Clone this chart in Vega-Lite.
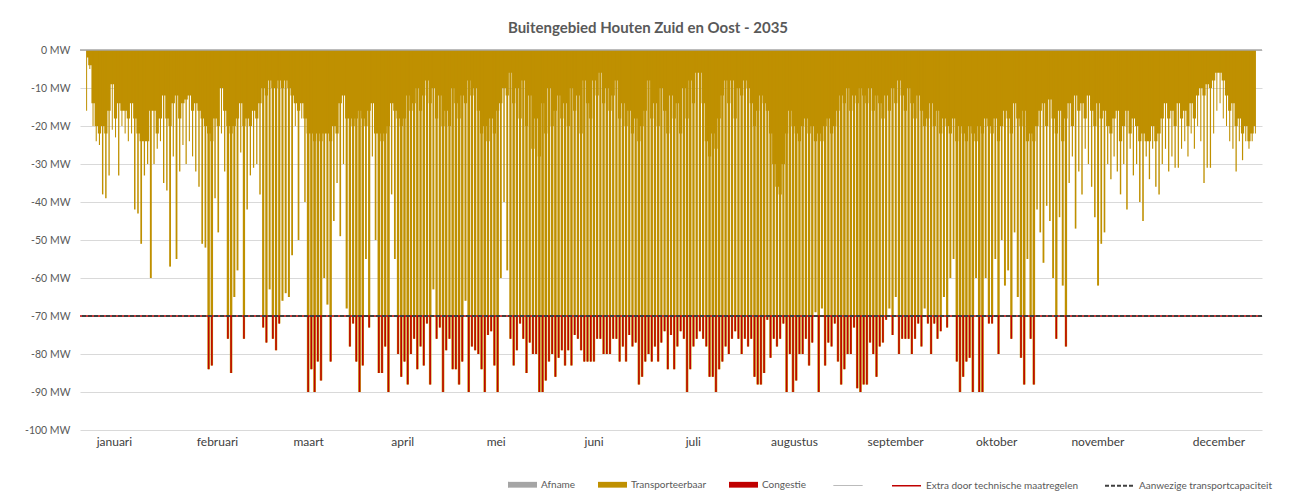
{
"$schema": "https://vega.github.io/schema/vega-lite/v6.json",
"width": 1182, "height": 380,
"autosize": "none",
"padding": {"left": 80, "top": 50, "right": 28, "bottom": 68},
"background": "white",
"config": {"font": "Lato", "view": {"stroke": null}},
"title": {"text": "Buitengebied Houten Zuid en Oost - 2035", "fontSize": 15, "fontWeight": "bold", "color": "#595959", "anchor": "middle", "dx": -23, "offset": -3, "baseline": "alphabetic"},
"data": {"values": [
{"d":0,"n":-2,"p":-16},{"d":1,"n":-4,"p":-5},{"d":2,"n":-14,"p":-20},{"d":3,"n":-20,"p":-24},{"d":4,"n":-22,"p":-25},{"d":5,"n":-20,"p":-38},{"d":6,"n":-22,"p":-39},{"d":7,"n":-16,"p":-33},{"d":8,"n":-9,"p":-21},{"d":9,"n":-18,"p":-23},
{"d":10,"n":-14,"p":-33},{"d":11,"n":-16,"p":-20},{"d":12,"n":-16,"p":-22},{"d":13,"n":-18,"p":-24},{"d":14,"n":-14,"p":-22},{"d":15,"n":-18,"p":-42},{"d":16,"n":-22,"p":-43},{"d":17,"n":-24,"p":-51},{"d":18,"n":-24,"p":-33},{"d":19,"n":-24,"p":-30},
{"d":20,"n":-16,"p":-60},{"d":21,"n":-16,"p":-30},{"d":22,"n":-22,"p":-26},{"d":23,"n":-18,"p":-24},{"d":24,"n":-12,"p":-35},{"d":25,"n":-18,"p":-37},{"d":26,"n":-20,"p":-57},{"d":27,"n":-14,"p":-28},{"d":28,"n":-12,"p":-55},{"d":29,"n":-18,"p":-32},
{"d":30,"n":-14,"p":-25},{"d":31,"n":-13,"p":-30},{"d":32,"n":-12,"p":-24},{"d":33,"n":-16,"p":-28},{"d":34,"n":-14,"p":-32},{"d":35,"n":-16,"p":-36},{"d":36,"n":-18,"p":-51},{"d":37,"n":-20,"p":-52},{"d":38,"n":-22,"p":-84},{"d":39,"n":-24,"p":-83},
{"d":40,"n":-18,"p":-39},{"d":41,"n":-20,"p":-48},{"d":42,"n":-10,"p":-22},{"d":43,"n":-16,"p":-32},{"d":44,"n":-20,"p":-76},{"d":45,"n":-22,"p":-85},{"d":46,"n":-20,"p":-65},{"d":47,"n":-18,"p":-58},{"d":48,"n":-14,"p":-27},{"d":49,"n":-20,"p":-76},
{"d":50,"n":-18,"p":-42},{"d":51,"n":-20,"p":-33},{"d":52,"n":-16,"p":-31},{"d":53,"n":-18,"p":-30},{"d":54,"n":-14,"p":-38},{"d":55,"n":-10,"p":-73},{"d":56,"n":-12,"p":-77},{"d":57,"n":-8,"p":-63},{"d":58,"n":-10,"p":-76},{"d":59,"n":-10,"p":-79},
{"d":60,"n":-8,"p":-72},{"d":61,"n":-10,"p":-66},{"d":62,"n":-8,"p":-64},{"d":63,"n":-10,"p":-65},{"d":64,"n":-12,"p":-54},{"d":65,"n":-14,"p":-20},{"d":66,"n":-16,"p":-50},{"d":67,"n":-14,"p":-18},{"d":68,"n":-18,"p":-40},{"d":69,"n":-22,"p":-90},
{"d":70,"n":-22,"p":-84},{"d":71,"n":-24,"p":-90},{"d":72,"n":-22,"p":-82},{"d":73,"n":-24,"p":-87},{"d":74,"n":-22,"p":-60},{"d":75,"n":-22,"p":-67},{"d":76,"n":-24,"p":-82},{"d":77,"n":-20,"p":-45},{"d":78,"n":-22,"p":-35},{"d":79,"n":-14,"p":-49},
{"d":80,"n":-12,"p":-30},{"d":81,"n":-18,"p":-68},{"d":82,"n":-18,"p":-78},{"d":83,"n":-20,"p":-72},{"d":84,"n":-18,"p":-82},{"d":85,"n":-16,"p":-90},{"d":86,"n":-18,"p":-83},{"d":87,"n":-20,"p":-55},{"d":88,"n":-16,"p":-73},{"d":89,"n":-14,"p":-28},
{"d":90,"n":-22,"p":-50},{"d":91,"n":-22,"p":-85},{"d":92,"n":-24,"p":-85},{"d":93,"n":-22,"p":-78},{"d":94,"n":-20,"p":-90},{"d":95,"n":-14,"p":-38},{"d":96,"n":-16,"p":-55},{"d":97,"n":-18,"p":-80},{"d":98,"n":-20,"p":-86},{"d":99,"n":-18,"p":-82},
{"d":100,"n":-12,"p":-88},{"d":101,"n":-16,"p":-80},{"d":102,"n":-14,"p":-76},{"d":103,"n":-10,"p":-84},{"d":104,"n":-16,"p":-78},{"d":105,"n":-12,"p":-83},{"d":106,"n":-8,"p":-72},{"d":107,"n":-14,"p":-88},{"d":108,"n":-10,"p":-63},{"d":109,"n":-18,"p":-76},
{"d":110,"n":-12,"p":-73},{"d":111,"n":-20,"p":-90},{"d":112,"n":-16,"p":-79},{"d":113,"n":-20,"p":-76},{"d":114,"n":-10,"p":-84},{"d":115,"n":-14,"p":-84},{"d":116,"n":-18,"p":-88},{"d":117,"n":-12,"p":-82},{"d":118,"n":-14,"p":-66},{"d":119,"n":-8,"p":-90},
{"d":120,"n":-12,"p":-78},{"d":121,"n":-10,"p":-79},{"d":122,"n":-16,"p":-80},{"d":123,"n":-22,"p":-84},{"d":124,"n":-20,"p":-90},{"d":125,"n":-24,"p":-75},{"d":126,"n":-18,"p":-74},{"d":127,"n":-22,"p":-83},{"d":128,"n":-16,"p":-90},{"d":129,"n":-14,"p":-60},
{"d":130,"n":-10,"p":-40},{"d":131,"n":-12,"p":-58},{"d":132,"n":-6,"p":-76},{"d":133,"n":-14,"p":-83},{"d":134,"n":-10,"p":-79},{"d":135,"n":-18,"p":-72},{"d":136,"n":-8,"p":-76},{"d":137,"n":-20,"p":-85},{"d":138,"n":-12,"p":-77},{"d":139,"n":-26,"p":-80},
{"d":140,"n":-18,"p":-80},{"d":141,"n":-28,"p":-90},{"d":142,"n":-14,"p":-90},{"d":143,"n":-22,"p":-87},{"d":144,"n":-10,"p":-82},{"d":145,"n":-20,"p":-80},{"d":146,"n":-16,"p":-86},{"d":147,"n":-12,"p":-81},{"d":148,"n":-18,"p":-79},{"d":149,"n":-14,"p":-83},
{"d":150,"n":-20,"p":-79},{"d":151,"n":-10,"p":-83},{"d":152,"n":-16,"p":-75},{"d":153,"n":-12,"p":-76},{"d":154,"n":-22,"p":-79},{"d":155,"n":-8,"p":-82},{"d":156,"n":-14,"p":-82},{"d":157,"n":-18,"p":-82},{"d":158,"n":-8,"p":-82},{"d":159,"n":-12,"p":-76},
{"d":160,"n":-6,"p":-76},{"d":161,"n":-14,"p":-80},{"d":162,"n":-10,"p":-80},{"d":163,"n":-16,"p":-80},{"d":164,"n":-12,"p":-76},{"d":165,"n":-8,"p":-76},{"d":166,"n":-18,"p":-82},{"d":167,"n":-14,"p":-78},{"d":168,"n":-20,"p":-82},{"d":169,"n":-16,"p":-75},
{"d":170,"n":-22,"p":-78},{"d":171,"n":-18,"p":-77},{"d":172,"n":-24,"p":-88},{"d":173,"n":-20,"p":-86},{"d":174,"n":-16,"p":-82},{"d":175,"n":-8,"p":-80},{"d":176,"n":-18,"p":-82},{"d":177,"n":-14,"p":-78},{"d":178,"n":-20,"p":-82},{"d":179,"n":-10,"p":-77},
{"d":180,"n":-16,"p":-74},{"d":181,"n":-22,"p":-84},{"d":182,"n":-12,"p":-75},{"d":183,"n":-18,"p":-84},{"d":184,"n":-14,"p":-78},{"d":185,"n":-22,"p":-74},{"d":186,"n":-10,"p":-76},{"d":187,"n":-18,"p":-90},{"d":188,"n":-8,"p":-84},{"d":189,"n":-14,"p":-78},
{"d":190,"n":-6,"p":-76},{"d":191,"n":-6,"p":-74},{"d":192,"n":-14,"p":-76},{"d":193,"n":-24,"p":-78},{"d":194,"n":-28,"p":-86},{"d":195,"n":-22,"p":-86},{"d":196,"n":-26,"p":-90},{"d":197,"n":-18,"p":-84},{"d":198,"n":-12,"p":-82},{"d":199,"n":-8,"p":-78},
{"d":200,"n":-14,"p":-80},{"d":201,"n":-8,"p":-76},{"d":202,"n":-18,"p":-74},{"d":203,"n":-10,"p":-76},{"d":204,"n":-12,"p":-80},{"d":205,"n":-8,"p":-76},{"d":206,"n":-10,"p":-78},{"d":207,"n":-14,"p":-76},{"d":208,"n":-20,"p":-86},{"d":209,"n":-16,"p":-88},
{"d":210,"n":-12,"p":-88},{"d":211,"n":-14,"p":-85},{"d":212,"n":-16,"p":-71},{"d":213,"n":-22,"p":-81},{"d":214,"n":-30,"p":-76},{"d":215,"n":-36,"p":-78},{"d":216,"n":-38,"p":-76},{"d":217,"n":-30,"p":-72},{"d":218,"n":-22,"p":-90},{"d":219,"n":-16,"p":-80},
{"d":220,"n":-20,"p":-90},{"d":221,"n":-22,"p":-87},{"d":222,"n":-24,"p":-80},{"d":223,"n":-20,"p":-80},{"d":224,"n":-18,"p":-76},{"d":225,"n":-22,"p":-83},{"d":226,"n":-20,"p":-77},{"d":227,"n":-24,"p":-69},{"d":228,"n":-22,"p":-90},{"d":229,"n":-24,"p":-68},
{"d":230,"n":-20,"p":-83},{"d":231,"n":-18,"p":-77},{"d":232,"n":-22,"p":-78},{"d":233,"n":-20,"p":-72},{"d":234,"n":-16,"p":-82},{"d":235,"n":-12,"p":-88},{"d":236,"n":-14,"p":-84},{"d":237,"n":-10,"p":-80},{"d":238,"n":-16,"p":-80},{"d":239,"n":-12,"p":-73},
{"d":240,"n":-14,"p":-89},{"d":241,"n":-10,"p":-90},{"d":242,"n":-12,"p":-88},{"d":243,"n":-14,"p":-88},{"d":244,"n":-10,"p":-77},{"d":245,"n":-16,"p":-80},{"d":246,"n":-12,"p":-86},{"d":247,"n":-14,"p":-78},{"d":248,"n":-18,"p":-77},{"d":249,"n":-12,"p":-71},
{"d":250,"n":-16,"p":-68},{"d":251,"n":-10,"p":-75},{"d":252,"n":-14,"p":-65},{"d":253,"n":-8,"p":-80},{"d":254,"n":-12,"p":-76},{"d":255,"n":-16,"p":-76},{"d":256,"n":-10,"p":-76},{"d":257,"n":-14,"p":-80},{"d":258,"n":-18,"p":-76},{"d":259,"n":-12,"p":-72},
{"d":260,"n":-16,"p":-78},{"d":261,"n":-20,"p":-68},{"d":262,"n":-18,"p":-72},{"d":263,"n":-14,"p":-80},{"d":264,"n":-20,"p":-72},{"d":265,"n":-16,"p":-76},{"d":266,"n":-22,"p":-74},{"d":267,"n":-18,"p":-65},{"d":268,"n":-20,"p":-73},{"d":269,"n":-22,"p":-60},
{"d":270,"n":-18,"p":-55},{"d":271,"n":-24,"p":-82},{"d":272,"n":-20,"p":-90},{"d":273,"n":-22,"p":-86},{"d":274,"n":-24,"p":-82},{"d":275,"n":-20,"p":-81},{"d":276,"n":-22,"p":-90},{"d":277,"n":-24,"p":-60},{"d":278,"n":-20,"p":-90},{"d":279,"n":-22,"p":-90},
{"d":280,"n":-18,"p":-60},{"d":281,"n":-20,"p":-72},{"d":282,"n":-22,"p":-72},{"d":283,"n":-18,"p":-55},{"d":284,"n":-24,"p":-80},{"d":285,"n":-20,"p":-50},{"d":286,"n":-16,"p":-62},{"d":287,"n":-18,"p":-58},{"d":288,"n":-22,"p":-76},{"d":289,"n":-14,"p":-48},
{"d":290,"n":-18,"p":-65},{"d":291,"n":-20,"p":-81},{"d":292,"n":-16,"p":-88},{"d":293,"n":-24,"p":-55},{"d":294,"n":-22,"p":-76},{"d":295,"n":-24,"p":-88},{"d":296,"n":-20,"p":-42},{"d":297,"n":-16,"p":-48},{"d":298,"n":-14,"p":-56},{"d":299,"n":-20,"p":-41},
{"d":300,"n":-13,"p":-45},{"d":301,"n":-18,"p":-60},{"d":302,"n":-22,"p":-76},{"d":303,"n":-16,"p":-44},{"d":304,"n":-24,"p":-62},{"d":305,"n":-18,"p":-78},{"d":306,"n":-14,"p":-35},{"d":307,"n":-20,"p":-28},{"d":308,"n":-12,"p":-47},{"d":309,"n":-16,"p":-32},
{"d":310,"n":-14,"p":-38},{"d":311,"n":-18,"p":-26},{"d":312,"n":-12,"p":-30},{"d":313,"n":-16,"p":-36},{"d":314,"n":-20,"p":-44},{"d":315,"n":-14,"p":-62},{"d":316,"n":-18,"p":-51},{"d":317,"n":-16,"p":-48},{"d":318,"n":-20,"p":-30},{"d":319,"n":-22,"p":-34},
{"d":320,"n":-18,"p":-28},{"d":321,"n":-16,"p":-32},{"d":322,"n":-24,"p":-38},{"d":323,"n":-20,"p":-30},{"d":324,"n":-16,"p":-42},{"d":325,"n":-22,"p":-26},{"d":326,"n":-18,"p":-33},{"d":327,"n":-20,"p":-30},{"d":328,"n":-24,"p":-40},{"d":329,"n":-22,"p":-45},
{"d":330,"n":-24,"p":-28},{"d":331,"n":-24,"p":-34},{"d":332,"n":-20,"p":-26},{"d":333,"n":-24,"p":-36},{"d":334,"n":-22,"p":-38},{"d":335,"n":-18,"p":-30},{"d":336,"n":-14,"p":-26},{"d":337,"n":-18,"p":-32},{"d":338,"n":-16,"p":-28},{"d":339,"n":-20,"p":-31},
{"d":340,"n":-14,"p":-31},{"d":341,"n":-18,"p":-26},{"d":342,"n":-16,"p":-24},{"d":343,"n":-20,"p":-28},{"d":344,"n":-14,"p":-22},{"d":345,"n":-18,"p":-26},{"d":346,"n":-12,"p":-20},{"d":347,"n":-10,"p":-24},{"d":348,"n":-12,"p":-35},{"d":349,"n":-9,"p":-31},
{"d":350,"n":-10,"p":-31},{"d":351,"n":-8,"p":-22},{"d":352,"n":-6,"p":-16},{"d":353,"n":-6,"p":-14},{"d":354,"n":-8,"p":-18},{"d":355,"n":-12,"p":-20},{"d":356,"n":-16,"p":-24},{"d":357,"n":-14,"p":-26},{"d":358,"n":-20,"p":-32},{"d":359,"n":-18,"p":-24},
{"d":360,"n":-22,"p":-29},{"d":361,"n":-20,"p":-24},{"d":362,"n":-24,"p":-26},{"d":363,"n":-22,"p":-24},{"d":364,"n":-20,"p":-22}
]},
"layer": [
  {"encoding": {
     "x": {"field": "d", "type": "quantitative", "scale": {"domain": [-0.5, 364.5], "nice": false, "zero": false},
       "axis": {"title": null, "domain": false, "ticks": false, "grid": false, "labelColor": "#404040", "labelFontSize": 12, "labelPadding": 6, "labelFlush": false, "labelOverlap": false,
         "values": [8.5, 40.6, 69, 98.3, 127.4, 157.9, 188.8, 220.3, 251.8, 283.3, 314.8, 352.5],
         "labelExpr": "['januari','februari','maart','april','mei','juni','juli','augustus','september','oktober','november','december'][indexof([8.5, 40.6, 69, 98.3, 127.4, 157.9, 188.8, 220.3, 251.8, 283.3, 314.8, 352.5], datum.value)]"}}
   },
   "layer": [
    {"mark": {"type": "area", "interpolate": "step"},
     "encoding": {
       "y": {"field": "n", "type": "quantitative", "scale": {"domain": [-100, 0], "nice": false},
         "axis": {"title": null, "domain": false, "ticks": false, "grid": true, "gridColor": "#d9d9d9", "labelColor": "#595959", "labelFontSize": 10.5, "labelPadding": 10, "labelOverlap": false,
           "values": [-100, -90, -80, -70, -60, -50, -40, -30, -20, -10, 0], "labelExpr": "datum.value + ' MW'"}},
       "y2": {"datum": 0},
       "color": {"datum": "Transporteerbaar", "type": "nominal",
         "scale": {"domain": ["Afname", "Transporteerbaar", "Congestie"], "range": ["#a5a5a5", "#bf9000", "#c00000"]},
         "legend": {"orient": "none", "legendX": 428, "legendY": 420, "direction": "horizontal", "title": null, "padding": 0,
           "symbolSize": 841, "symbolType": "M-1,-0.2H1V0.2H-1Z", "symbolOpacity": 1, "symbolStrokeWidth": 0,
           "labelFontSize": 10, "labelColor": "#595959", "columnPadding": 22, "labelOffset": 4}}
     }},
    {"mark": {"type": "bar", "orient": "vertical"},
     "encoding": {
       "y": {"field": "p", "type": "quantitative",
         "axis": {"title": null, "domain": false, "ticks": false, "grid": true, "gridColor": "#d9d9d9", "labelColor": "#595959", "labelFontSize": 10.5, "labelPadding": 10, "labelOverlap": false,
           "values": [-100, -90, -80, -70, -60, -50, -40, -30, -20, -10, 0], "labelExpr": "datum.value + ' MW'"}},
       "y2": {"datum": 0},
       "size": {"field": "p", "type": "quantitative", "scale": {"domain": [-90, -20], "range": [2.6, 1], "clamp": true}, "legend": null},
       "color": {"datum": "Transporteerbaar", "type": "nominal"}
     }},
    {"transform": [{"filter": "datum.p < -70"}],
     "mark": {"type": "bar", "orient": "vertical", "size": 1.5},
     "encoding": {
       "y": {"field": "p", "type": "quantitative",
         "axis": {"title": null, "domain": false, "ticks": false, "grid": true, "gridColor": "#d9d9d9", "labelColor": "#595959", "labelFontSize": 10.5, "labelPadding": 10, "labelOverlap": false,
           "values": [-100, -90, -80, -70, -60, -50, -40, -30, -20, -10, 0], "labelExpr": "datum.value + ' MW'"}},
       "y2": {"datum": -70},
       "color": {"datum": "Congestie", "type": "nominal"}
     }}
   ]},
  {"data": {"values": [{"k": "Extra door technische maatregelen"}, {"k": "Aanwezige transportcapaciteit"}]},
   "mark": {"type": "rule"},
   "encoding": {
     "y": {"datum": -70,
         "axis": {"title": null, "domain": false, "ticks": false, "grid": true, "gridColor": "#d9d9d9", "labelColor": "#595959", "labelFontSize": 10.5, "labelPadding": 10, "labelOverlap": false,
           "values": [-100, -90, -80, -70, -60, -50, -40, -30, -20, -10, 0], "labelExpr": "datum.value + ' MW'"}},
     "color": {"field": "k", "type": "nominal",
       "scale": {"domain": [" ", "Extra door technische maatregelen", "Aanwezige transportcapaciteit"], "range": ["#a5a5a5", "#c00000", "#404040"]},
       "legend": {"orient": "none", "legendX": 753, "legendY": 420, "direction": "horizontal", "title": null, "padding": 0,
         "symbolSize": 841, "symbolType": "M-1,0H1", "symbolOpacity": 1,
         "labelFontSize": 10, "labelColor": "#595959", "columnPadding": 22, "labelOffset": 4}},
     "strokeDash": {"field": "k", "type": "nominal",
       "scale": {"domain": [" ", "Extra door technische maatregelen", "Aanwezige transportcapaciteit"], "range": [[1, 0], [1, 0], [4, 2]]},
       "legend": {"orient": "none", "legendX": 753, "legendY": 420, "direction": "horizontal", "title": null, "padding": 0,
         "symbolSize": 841, "symbolType": "M-1,0H1", "symbolOpacity": 1,
         "labelFontSize": 10, "labelColor": "#595959", "columnPadding": 22, "labelOffset": 4}},
     "strokeWidth": {"field": "k", "type": "nominal",
       "scale": {"domain": [" ", "Extra door technische maatregelen", "Aanwezige transportcapaciteit"], "range": [1, 2, 2]},
       "legend": {"orient": "none", "legendX": 753, "legendY": 420, "direction": "horizontal", "title": null, "padding": 0,
         "symbolSize": 841, "symbolType": "M-1,0H1", "symbolOpacity": 1,
         "labelFontSize": 10, "labelColor": "#595959", "columnPadding": 22, "labelOffset": 4}}
   }},
  {"data": {"values": [{}]},
   "mark": {"type": "rule", "strokeWidth": 1.5, "color": "#a6a6a6"},
   "encoding": {"y": {"datum": 0,
         "axis": {"title": null, "domain": false, "ticks": false, "grid": true, "gridColor": "#d9d9d9", "labelColor": "#595959", "labelFontSize": 10.5, "labelPadding": 10, "labelOverlap": false,
           "values": [-100, -90, -80, -70, -60, -50, -40, -30, -20, -10, 0], "labelExpr": "datum.value + ' MW'"}}}}
],
"resolve": {"scale": {"color": "independent", "strokeDash": "independent", "strokeWidth": "independent"}, "legend": {"color": "independent", "strokeDash": "independent", "strokeWidth": "independent"}}
}
